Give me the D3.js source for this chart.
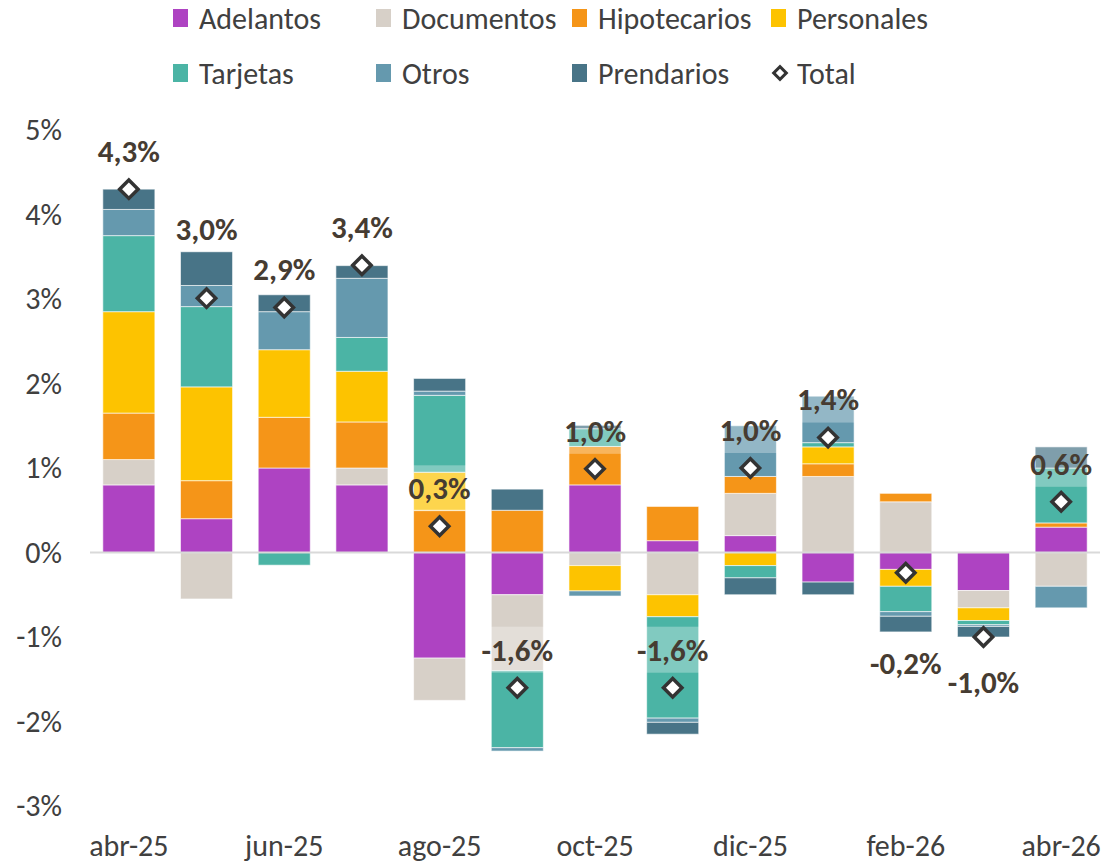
<!DOCTYPE html>
<html>
<head>
<meta charset="utf-8">
<script src="https://cdn.jsdelivr.net/npm/d3@7"></script>
<style>
  body { margin: 0; background: #fff; }
  text { font-family: Carlito, Lato, "Open Sans", sans-serif; }
</style>
</head>
<body>
<svg width="1105" height="865"></svg>
<script>
// months and series (% change)
const months = ["abr-25","may-25","jun-25","jul-25","ago-25","sep-25","oct-25","nov-25","dic-25","ene-26","feb-26","mar-26","abr-26"];
const tickMonths = ["abr-25","jun-25","ago-25","oct-25","dic-25","feb-26","abr-26"];
const yTicks = [-3,-2,-1,0,1,2,3,4,5];

const adelantos    = [0.80, 0.40, 1.00, 0.80, -1.25, -0.50, 0.80, 0.14, 0.20, -0.35, -0.20, -0.45, 0.30];
const documentos   = [0.30, -0.55, 0.00, 0.20, -0.50, -0.90, -0.155, -0.50, 0.50, 0.90, 0.60, -0.205, -0.40];
const hipotecarios = [0.55, 0.45, 0.60, 0.545, 0.50, 0.50, 0.455, 0.405, 0.20, 0.15, 0.10, 0.00, 0.05];
const personales   = [1.20, 1.11, 0.80, 0.60, 0.45, 0.00, -0.30, -0.26, -0.155, 0.20, -0.20, -0.15, 0.00];
const tarjetas     = [0.90, 0.95, -0.15, 0.40, 0.91, -0.91, 0.21, -1.20, -0.145, 0.05, -0.30, -0.05, 0.65];
const otros        = [0.31, 0.25, 0.45, 0.70, 0.05, -0.04, -0.06, -0.05, 0.60, 0.55, -0.055, -0.02, -0.255];
const prendarios   = [0.24, 0.40, 0.20, 0.15, 0.15, 0.25, 0.04, -0.14, -0.20, -0.15, -0.185, -0.125, 0.25];
const totals       = [4.30, 3.01, 2.90, 3.40, 0.31, -1.60, 0.99, -1.60, 1.00, 1.36, -0.24, -1.00, 0.60];

const series = [
  {key: "Adelantos",    vals: adelantos,    color: "#ae43c2"},
  {key: "Documentos",   vals: documentos,   color: "#d7d0c8"},
  {key: "Hipotecarios", vals: hipotecarios, color: "#f59518"},
  {key: "Personales",   vals: personales,   color: "#fdc300"},
  {key: "Tarjetas",     vals: tarjetas,     color: "#4bb4a5"},
  {key: "Otros",        vals: otros,        color: "#6599ae"},
  {key: "Prendarios",   vals: prendarios,   color: "#487487"}
];

// label placement tweaks (px, relative to marker) for a few months
const labelNudge = {"may-25": -69, "feb-26": 90, "mar-26": 45};

const table = months.map((m, i) => {
  const row = {month: m, total: totals[i]};
  series.forEach(s => row[s.key] = s.vals[i]);
  return row;
});

const svg = d3.select("svg");

const x = d3.scaleBand().domain(months).range([90, 1100]).paddingInner(0.33).paddingOuter(0.165);
const y = d3.scaleLinear().domain([-3, 5]).range([806, 130]);

const stacked = d3.stack()
  .keys(series.map(s => s.key))
  .offset(d3.stackOffsetDiverging)(table);

// y axis labels
const yAxis = svg.append("g")
  .attr("transform", "translate(62,0)")
  .call(d3.axisLeft(y).tickValues(yTicks).tickSize(0).tickPadding(0).tickFormat(d => d + "%"));
yAxis.select(".domain").remove();
yAxis.selectAll("text").attr("font-size", 30).attr("fill", "#404040").style("font-family", null);

// x axis labels
const xAxis = svg.append("g")
  .attr("transform", "translate(0,835)")
  .call(d3.axisBottom(x).tickValues(tickMonths).tickSize(0).tickPadding(0));
xAxis.select(".domain").remove();
xAxis.selectAll("text").attr("font-size", 30).attr("fill", "#404040").style("font-family", null);

// bars
const colorOf = d3.scaleOrdinal(series.map(s => s.key), series.map(s => s.color));
svg.append("g").selectAll("g")
  .data(stacked)
  .join("g")
    .attr("fill", d => colorOf(d.key))
  .selectAll("rect")
  .data(d => d)
  .join("rect")
    .attr("x", d => x(d.data.month))
    .attr("y", d => y(Math.max(d[0], d[1])))
    .attr("width", x.bandwidth())
    .attr("height", d => Math.abs(y(d[0]) - y(d[1])))
    .attr("stroke", "#ffffff")
    .attr("stroke-opacity", 0.6)
    .attr("stroke-width", 1);

// zero line
svg.append("line")
  .attr("x1", 90).attr("x2", 1100)
  .attr("y1", y(0)).attr("y2", y(0))
  .attr("stroke", "#d9d9d9").attr("stroke-width", 2);

// data labels with translucent background
const fmt = v => v.toFixed(1).replace(".", ",") + "%";
const labelY = d => y(d.total) + (labelNudge[d.month] !== undefined ? labelNudge[d.month] : -38);

const bg = svg.append("g");
const diamonds = svg.append("g");
const txt = svg.append("g");

diamonds.selectAll("path")
  .data(table)
  .join("path")
    .attr("d", d3.symbol(d3.symbolSquare, 170))
    .attr("transform", d => `translate(${x(d.month) + x.bandwidth() / 2},${y(d.total)}) rotate(45)`)
    .attr("fill", "#ffffff")
    .attr("stroke", "#333333")
    .attr("stroke-width", 3.5);

txt.selectAll("text")
  .data(table)
  .join("text")
    .attr("x", d => x(d.month) + x.bandwidth() / 2)
    .attr("y", labelY)
    .attr("dy", "0.35em")
    .attr("text-anchor", "middle")
    .attr("font-size", 31)
    .attr("font-weight", "bold")
    .attr("fill", "#463c32")
    .text(d => fmt(d.total));

txt.selectAll("text").each(function(d) {
  const b = this.getBBox();
  bg.append("rect")
    .attr("x", b.x - 5).attr("y", labelY(d) - 23)
    .attr("width", b.width + 10).attr("height", 46)
    .attr("fill", "#ffffff").attr("fill-opacity", 0.3);
});

// legend
const legendItems = series.map(s => ({key: s.key, color: s.color})).concat([{key: "Total", color: null}]);
const colX = [173, 376, 572, 771];
const rowY = [18, 73];
const legend = svg.append("g");
legendItems.forEach((it, i) => {
  const gx = colX[i % 4], gy = rowY[Math.floor(i / 4)];
  const g = legend.append("g").attr("transform", `translate(${gx},${gy})`);
  if (it.color) {
    g.append("rect").attr("x", 0).attr("y", -9).attr("width", 15).attr("height", 18).attr("fill", it.color);
  } else {
    g.append("path")
      .attr("d", d3.symbol(d3.symbolSquare, 80))
      .attr("transform", "translate(9,0) rotate(45)")
      .attr("fill", "#ffffff").attr("stroke", "#333333").attr("stroke-width", 3);
  }
  g.append("text")
    .attr("x", 26)
    .attr("dy", "0.35em")
    .attr("font-size", 30)
    .attr("fill", "#404040")
    .text(it.key);
});
</script>
</body>
</html>
